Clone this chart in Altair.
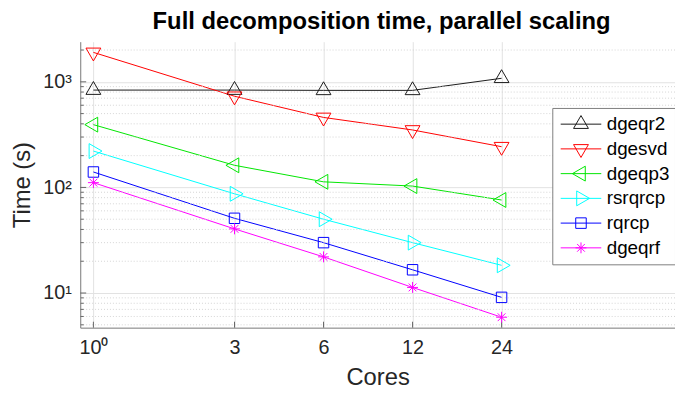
import altair as alt
import pandas as pd

# ---- data ----
cores = [1, 3, 6, 12, 24]
series_names = ["dgeqr2", "dgesvd", "dgeqp3", "rsrqrcp", "rqrcp", "dgeqrf"]
dgeqr2 = [835, 835, 830, 830, 1080]
dgesvd = [1900, 730, 460, 350, 243]
dgeqp3 = [393, 162, 113, 103, 76]
rsrqrcp = [221, 87, 50, 30, 18.3]
rqrcp = [140, 51, 30, 16.6, 9.1]
dgeqrf = [111, 40.5, 22, 11.3, 5.9]

x_ticks = [1, 3, 6, 12, 24]
y_major = [10, 100, 1000]
y_minor = [5, 6, 7, 8, 9, 20, 30, 40, 50, 60, 70, 80, 90,
           200, 300, 400, 500, 600, 700, 800, 900, 2000]

# ---- styles ----
colors = ["#1a1a1a", "#ff0000", "#00e600", "#00ffff", "#0000ff", "#ff00ff"]
FONT = "Liberation Sans"

plot_paths = [
    "M0,-1.083L0.9375,0.542L-0.9375,0.542Z",
    "M0,1.083L0.9375,-0.542L-0.9375,-0.542Z",
    "M-1.083,0L0.542,-0.9375L0.542,0.9375Z",
    "M1.083,0L-0.542,-0.9375L-0.542,0.9375Z",
    "M-0.66,-0.66L0.66,-0.66L0.66,0.66L-0.66,0.66Z",
    "M-0.69,0L0.69,0M0,-0.69L0,0.69M-0.49,-0.49L0.49,0.49M-0.49,0.49L0.49,-0.49",
]
L = "M-1,0L1,0"
legend_paths = [
    L + "M0,-0.423L0.366,0.211L-0.366,0.211Z",
    L + "M0,0.423L0.366,-0.211L-0.366,-0.211Z",
    L + "M-0.423,0L0.211,-0.366L0.211,0.366Z",
    L + "M0.423,0L-0.211,-0.366L-0.211,0.366Z",
    L + "M-0.259,-0.259L0.259,-0.259L0.259,0.259L-0.259,0.259Z",
    L + "M-0.268,0L0.268,0M0,-0.268L0,0.268M-0.19,-0.19L0.19,0.19M-0.19,0.19L0.19,-0.19",
]

values = [dgeqr2, dgesvd, dgeqp3, rsrqrcp, rqrcp, dgeqrf]
rows = []
for name, vals in zip(series_names, values):
    for c, v in zip(cores, vals):
        rows.append({"series": name, "cores": c, "time": v})
df = pd.DataFrame(rows)

W, H = 601, 289
xscale = alt.Scale(type="log", domain=[0.9026, 92.6], nice=False)
yscale = alt.Scale(type="log", domain=[4.7, 2400], nice=False)
cscale = alt.Scale(domain=series_names, range=colors)

xaxis = alt.Axis(
    values=x_ticks,
    labelExpr="datum.value == 1 ? '10\u2070' : format(datum.value, 'd')",
    grid=True, gridColor="#e2e2e2", gridWidth=1,
    ticks=False, tickSize=0,
    domainColor="#777777", domainWidth=1,
    labelFont=FONT, labelFontSize=20, labelColor="#262626",
    labelPadding=10, labelOverlap=False, labelFlush=False,
    title="Cores", titleFont=FONT, titleFontSize=24, titleFontWeight="normal",
    titleColor="#262626", titleY=57, titleBaseline="alphabetic",
)
yaxis = alt.Axis(
    values=y_major,
    labelExpr="datum.value == 10 ? '10\u00b9' : datum.value == 100 ? '10\u00b2' : '10\u00b3'",
    grid=True, gridColor="#e2e2e2", gridWidth=1,
    ticks=False, tickSize=0,
    domainColor="#777777", domainWidth=1,
    labelFont=FONT, labelFontSize=20, labelColor="#262626",
    labelPadding=9, labelOverlap=False, labelFlush=False,
    title="Time (s)", titleFont=FONT, titleFontSize=24, titleFontWeight="normal",
    titleColor="#262626", titleX=-58, titleY=H / 2, titleBaseline="middle",
    titleAlign="center",
)

X = lambda f: alt.X(f, scale=xscale, axis=xaxis)
Y = lambda f: alt.Y(f, scale=yscale, axis=yaxis)

minor_df = pd.DataFrame({"v": y_minor})
major_df = pd.DataFrame({"v": y_major})
xt_df = pd.DataFrame({"c": x_ticks})

lines = alt.Chart(df).mark_line(strokeWidth=1).encode(
    x=X("cores:Q"), y=Y("time:Q"),
    color=alt.Color("series:N", scale=cscale, legend=None),
    detail="series:N",
)

minor_grid = alt.Chart(minor_df).mark_rule(
    color="#d4d4d4", strokeDash=[1, 2], strokeWidth=1
).encode(y=Y("v:Q"))

minor_ticks = alt.Chart(minor_df).mark_rule(color="#666666", strokeWidth=1).encode(
    y=Y("v:Q"), x=alt.value(0), x2=alt.value(3.5)
)
major_ticks = alt.Chart(major_df).mark_rule(color="#666666", strokeWidth=1).encode(
    y=Y("v:Q"), x=alt.value(0), x2=alt.value(6)
)
x_ticks_layer = alt.Chart(xt_df).mark_rule(color="#666666", strokeWidth=1).encode(
    x=X("c:Q"), y=alt.value(H), y2=alt.value(H - 6)
)

points = alt.Chart(df).mark_point(filled=False, size=256, strokeWidth=1, opacity=1).encode(
    x=X("cores:Q"), y=Y("time:Q"),
    color=alt.Color("series:N", scale=cscale, legend=None),
    shape=alt.Shape("series:N", scale=alt.Scale(domain=series_names, range=plot_paths), legend=None),
)

leg_props = dict(
    title=None, orient="none", legendX=477, legendY=67,
    symbolSize=1681, symbolStrokeWidth=1, clipHeight=22.7, rowPadding=2,
    padding=5, labelFont=FONT, labelFontSize=19, labelColor="black",
    labelOffset=5, symbolOffset=3,
    strokeColor="#7f7f7f", fillColor="white", cornerRadius=0,
)

legend_layer = alt.Chart(df).transform_filter("datum.time < 0").mark_point(
    filled=False, strokeWidth=1, opacity=1
).encode(
    x=X("cores:Q"), y=Y("time:Q"),
    color=alt.Color("series:N", scale=cscale, legend=alt.Legend(**leg_props)),
    shape=alt.Shape("series:N", scale=alt.Scale(domain=series_names, range=legend_paths),
                    legend=alt.Legend(**leg_props)),
)

chart = alt.layer(
    lines, minor_grid, minor_ticks, major_ticks, x_ticks_layer, points, legend_layer
).resolve_scale(
    color="independent", shape="independent"
).properties(
    width=W, height=H,
    padding={"left": 73, "top": 32, "right": 0, "bottom": 63},
    autosize=alt.AutoSizeParams(type="none"),
    background="white",
    title=alt.TitleParams(
        text="Full decomposition time, parallel scaling",
        font=FONT, fontSize=24, fontWeight="bold", color="black",
        anchor="middle", frame="group", offset=12, baseline="alphabetic", dx=4, dy=23,
    ),
).configure_view(stroke=None)

chart.save("out.html", embed_options={"renderer": "svg", "actions": False})
